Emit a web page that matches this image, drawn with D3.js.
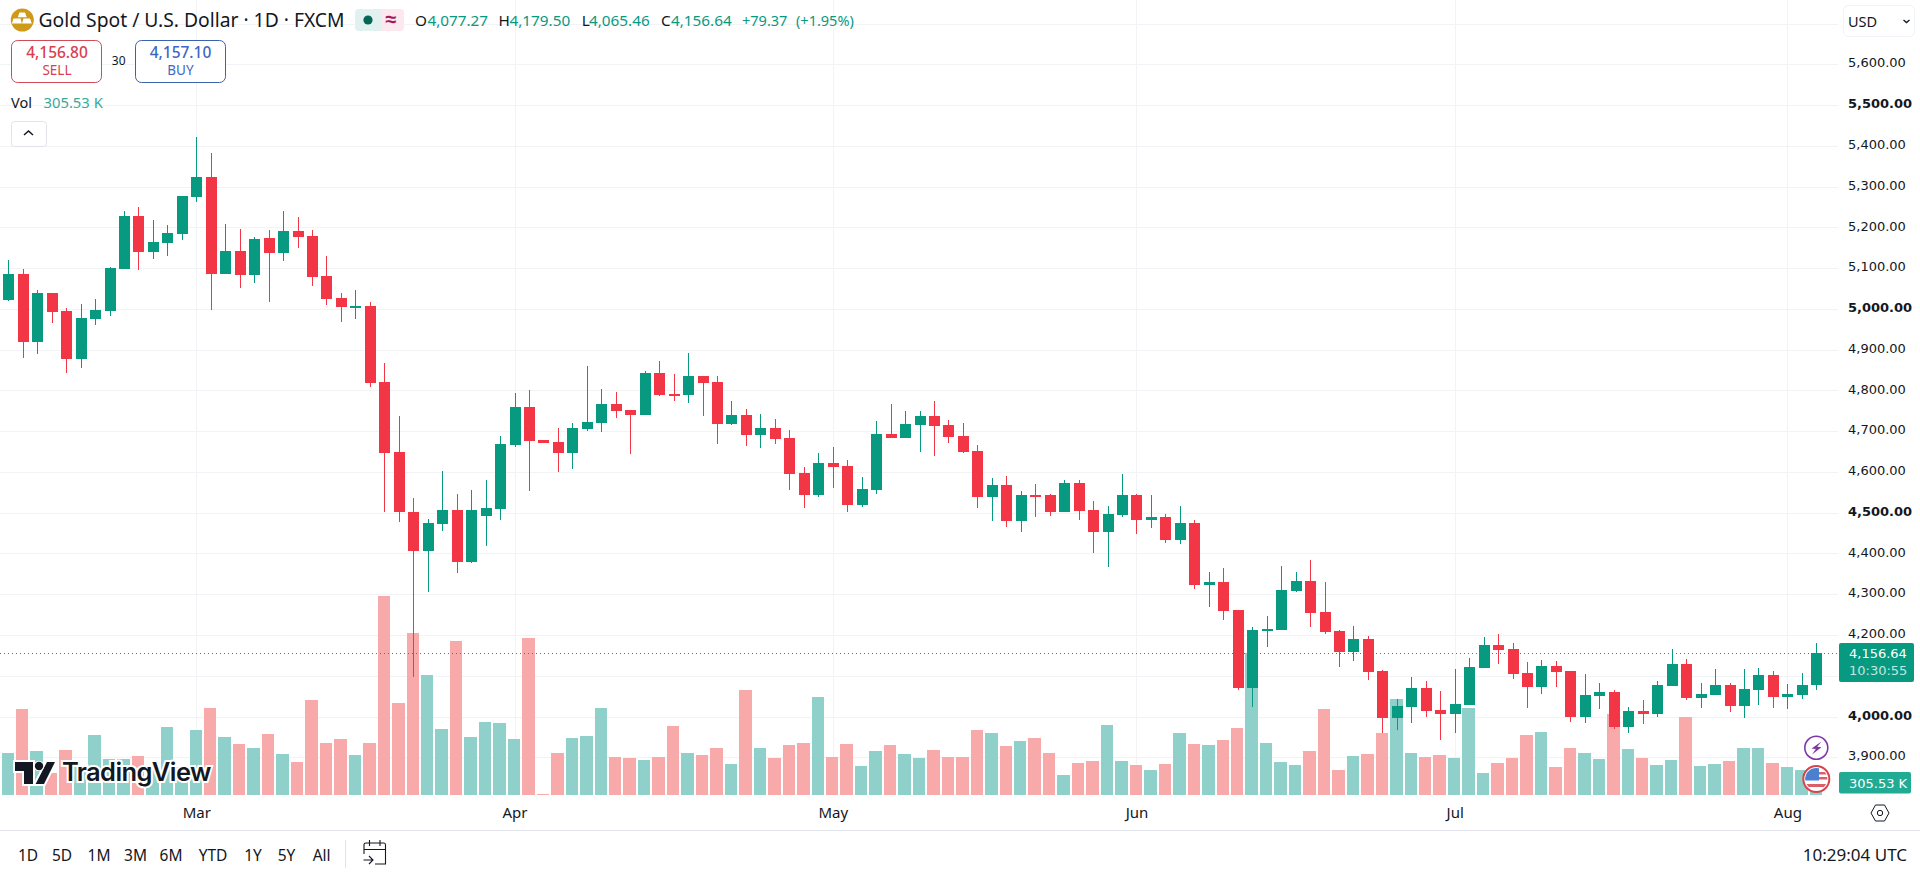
<!DOCTYPE html>
<html>
<head>
<meta charset="utf-8">
<script src="https://cdnjs.cloudflare.com/ajax/libs/d3/7.8.5/d3.min.js"></script>
<style>
html,body{margin:0;padding:0;background:#fff;overflow:hidden}
svg{display:block}
text{font-family:"Noto Sans",sans-serif;fill:#131722}
</style>
</head>
<body>
<svg id="c" width="1920" height="875"></svg>
<script>
// Bar position 0 is the first session of March; the first bar is position -14.
const firstBar = -14;
const open_ = [null,5022,5085,4920,5039,4995,4878,4975,4995,5098,5228,5139,5162,5184,5274,5323,5086,5142,5083,5174,5137,5191,5179,5081,5027,5005,5007,4821,4649,4502,4406,4472,4507,4379,4492,4509,4666,4759,4678,4673,4646,4705,4720,4767,4752,4740,4843,4791,4789,4835,4821,4718,4740,4691,4708,4683,4597,4543,4622,4614,4519,4556,4693,4683,4715,4737,4715,4688,4651,4538,4568,4480,4543,4543,4502,4573,4507,4453,4494,4543,4482,4489,4433,4475,4323,4330,4261,4070,4212,4212,4308,4332,4256,4210,4158,4190,4111,3996,4023,4070,4016,4006,4028,4119,4175,4165,4107,4072,4124,4111,3999,4050,4060,3974,4013,4006,4075,4129,4045,4053,4077,4026,4065,4102,4048,4053,4077.27];
const high_ = [null,5120,5099,5046,5040,5001,5012,5024,5103,5240,5250,5218,5206,5277,5422,5382,5208,5196,5176,5193,5240,5225,5193,5130,5039,5046,5017,4867,4737,4536,4484,4602,4546,4556,4580,4688,4794,4801,4679,4708,4720,4860,4803,4796,4752,4848,4872,4840,4892,4836,4835,4774,4754,4742,4730,4703,4612,4646,4661,4629,4587,4725,4767,4749,4749,4774,4727,4720,4666,4585,4590,4553,4570,4546,4580,4580,4529,4516,4595,4546,4543,4497,4516,4482,4354,4364,4262,4219,4246,4369,4354,4384,4330,4212,4222,4197,4114,4043,4097,4087,4062,4116,4143,4195,4202,4180,4134,4139,4136,4112,4104,4082,4065,4023,4040,4087,4165,4141,4082,4116,4082,4116,4119,4112,4080,4107,4179.50];
const low_ = [null,5019,4880,4890,4966,4843,4856,4960,4983,5097,5095,5122,5130,5170,5263,4997,5085,5051,5063,5017,5117,5149,5056,5009,4968,4975,4808,4502,4477,4097,4305,4455,4352,4376,4418,4482,4661,4553,4670,4600,4607,4700,4698,4732,4644,4739,4786,4774,4769,4737,4668,4715,4664,4659,4668,4556,4511,4538,4560,4502,4514,4546,4683,4683,4649,4639,4671,4646,4511,4480,4465,4453,4489,4492,4501,4482,4401,4367,4489,4448,4462,4426,4423,4313,4269,4237,4066,4023,4170,4212,4305,4219,4202,4121,4136,4089,3959,3967,3984,3999,3942,3959,4028,4118,4129,4092,4021,4055,4072,3986,3984,4018,3969,3959,3981,3999,4074,4040,4021,4052,4011,3996,4028,4021,4018,4043,4065.46];
const close_ = [null,5085,4920,5039,4992,4878,4977,4997,5100,5228,5139,5164,5186,5277,5323,5085,5142,5083,5171,5137,5191,5176,5078,5024,5005,5007,4818,4647,4502,4406,4475,4507,4379,4507,4511,4669,4759,4676,4671,4646,4708,4722,4767,4749,4740,4843,4789,4789,4835,4818,4718,4740,4691,4708,4681,4595,4543,4622,4612,4519,4558,4693,4683,4717,4737,4713,4686,4649,4538,4568,4480,4543,4541,4502,4573,4504,4453,4497,4543,4482,4489,4433,4475,4323,4330,4259,4070,4212,4214,4310,4332,4254,4207,4158,4190,4109,3996,4026,4070,4013,4006,4031,4121,4175,4163,4104,4072,4124,4109,3999,4053,4060,3974,4013,4006,4077,4129,4045,4055,4077,4026,4067,4102,4048,4055,4077,4156.64];
const volumeK = [1137,1061,2181,1112,552,1137,713,1519,908,908,984,628,1723,713,1646,2207,1468,1290,1188,1545,1035,832,2410,1315,1417,1010,1315,5058,2334,4116,3047,1672,3912,1468,1850,1825,1417,3989,25,1061,1443,1494,2207,959,934,883,959,1748,1061,1010,1188,781,2665,1188,934,1265,1315,2487,959,1290,730,1112,1265,1035,934,1137,959,959,1646,1570,1239,1366,1443,1061,501,806,857,1774,857,755,628,781,1570,1290,1265,1392,1697,3598,1315,832,755,1112,2181,628,984,1035,1570,2436,1061,959,1010,934,2207,552,806,934,1519,1596,704,1188,1061,908,2054,1163,934,755,883,1977,730,781,857,1188,1188,806,704,628,305.53];
const priceTicks = [5600,5500,5400,5300,5200,5100,5000,4900,4800,4700,4600,4500,4400,4300,4200,4000,3900];
const boldTicks = [5500,5000,4500,4000];
const gridPrices = [5700,4100].concat(priceTicks);
const monthLabels = ["Mar","Apr","May","Jun","Jul","Aug"];
const monthBars = [0,22,44,65,87,110];
const rangeButtons = ["1D","5D","1M","3M","6M","YTD","1Y","5Y","All"];
const lastPrice = 4156.64;

const bars = volumeK.map((v,i)=>({pos:firstBar+i,o:open_[i],h:high_[i],l:low_[i],c:close_[i],v}));
const isUp = d => d.o===null ? true : d.c>=d.o;
const UP="#089981", DOWN="#F23645", GRID="#f2f3f6";

const x = d3.scaleLinear().domain([0,112]).range([196.3,1816.3]);
const y = d3.scaleLinear().domain([3900,5600]).range([757.3,64.3]);
const vy = d3.scaleLinear().domain([0,305.53]).range([794.7,782.7]);
const px = p => Math.round(x(p));

const svg = d3.select("#c");
const PLOT_R = 1838;

// grid
const grid = svg.append("g").attr("shape-rendering","crispEdges").attr("stroke",GRID);
grid.selectAll("line.h").data(gridPrices).join("line").attr("class","h").attr("x1",0).attr("x2",PLOT_R)
  .attr("y1",d=>Math.round(y(d))+.5).attr("y2",d=>Math.round(y(d))+.5);
grid.selectAll("line.v").data(monthBars).join("line").attr("class","v").attr("y1",0).attr("y2",795)
  .attr("x1",d=>px(d)+.5).attr("x2",d=>px(d)+.5);

// volume
const plot = svg.append("g");
plot.append("g").attr("shape-rendering","crispEdges").selectAll("rect").data(bars).join("rect")
  .attr("x",d=>Math.round(x(d.pos)-6.73))
  .attr("width",d=>Math.round(x(d.pos)+6.73)-Math.round(x(d.pos)-6.73)-1)
  .attr("y",d=>vy(d.v)).attr("height",d=>vy(0)-vy(d.v))
  .attr("fill",d=>isUp(d)?"#8fd1ca":"#f8a9aa");

// last price line
svg.append("line").attr("x1",0).attr("x2",PLOT_R).attr("y1",Math.round(y(lastPrice))+.5).attr("y2",Math.round(y(lastPrice))+.5)
  .attr("stroke",UP).attr("stroke-dasharray","1 3").attr("shape-rendering","crispEdges");

// candles
const candles = svg.append("g").attr("shape-rendering","crispEdges")
  .selectAll("g").data(bars.filter(d=>d.o!==null)).join("g").attr("fill",d=>isUp(d)?UP:DOWN);
candles.append("rect").attr("x",d=>px(d.pos)).attr("width",1)
  .attr("y",d=>y(d.h)).attr("height",d=>y(d.l)-y(d.h));
candles.append("rect").attr("x",d=>px(d.pos)-5).attr("width",11)
  .attr("y",d=>y(Math.max(d.o,d.c))).attr("height",d=>Math.max(1.6,Math.abs(y(d.o)-y(d.c))));

// watermark
const wm = svg.append("g");
const wmIcon = "M15 762H33V784H24V771H15Z M47 762 L55 762 L44 784 L35.6 784 Z";
wm.append("path").attr("d",wmIcon).attr("fill","#131722").attr("stroke","#fff").attr("stroke-width",4).attr("paint-order","stroke");
wm.append("circle").attr("cx",39).attr("cy",766).attr("r",4.2).attr("fill","#131722").attr("stroke","#fff").attr("stroke-width",2).attr("paint-order","stroke");
wm.append("text").attr("x",62).attr("y",781).text("TradingView")
  .style("font-family","Inter").style("font-size","25.5px").style("font-weight",600).style("letter-spacing","-0.6px")
  .attr("stroke","#fff").attr("stroke-width",4).attr("paint-order","stroke").style("fill","#131722");

// event icons
const ev = svg.append("g");
ev.append("circle").attr("cx",1816.3).attr("cy",747.7).attr("r",11.5).attr("fill","#fff").attr("stroke","#7e37a8").attr("stroke-width",1.6);
ev.append("path").attr("d","M1821.5 741.5 L1811.5 748.5 L1815.8 749 L1812 754.5 L1821.5 747.3 L1817.2 746.8 Z").attr("fill","#7e37a8");
ev.append("clipPath").attr("id","fl").append("circle").attr("cx",1816.3).attr("cy",779).attr("r",11);
ev.append("circle").attr("cx",1816.3).attr("cy",779).attr("r",13).attr("fill","#fff").attr("stroke","#d9434e").attr("stroke-width",2);
const fl = ev.append("g").attr("clip-path","url(#fl)");
fl.append("rect").attr("x",1804).attr("y",767).attr("width",25).attr("height",24).attr("fill","#fff");
fl.append("rect").attr("x",1804).attr("y",772).attr("width",25).attr("height",2.5).attr("fill","#d9606a");
fl.append("rect").attr("x",1804).attr("y",777).attr("width",25).attr("height",2.5).attr("fill","#d9606a");
fl.append("rect").attr("x",1804).attr("y",784).attr("width",25).attr("height",3).attr("fill","#d9606a");
fl.append("rect").attr("x",1804).attr("y",767).attr("width",15).attr("height",13.5).attr("fill","#4d7fd1");

// price axis
const axisR = d3.axisRight(y).tickValues(priceTicks).tickSize(0).tickPadding(0).tickFormat(d3.format(",.2f"));
const ga = svg.append("g").attr("transform","translate(1848,-1.5)").call(axisR);
ga.select(".domain").remove();
ga.selectAll("text").style("font-family","'DejaVu Sans'").style("font-size","13px").style("fill","#131722")
  .style("font-weight",d=>boldTicks.includes(d)?700:400);

// time axis
const axisB = d3.axisBottom(x).tickValues(monthBars).tickSize(0).tickPadding(0).tickFormat((d,i)=>monthLabels[i]);
const gt = svg.append("g").attr("transform","translate(0,804)").call(axisB);
gt.select(".domain").remove();
gt.selectAll("text").style("font-family","'Noto Sans'").style("font-size","15px").style("fill","#131722").attr("dy",0).attr("y",14);

// axis labels
svg.append("rect").attr("x",1839).attr("y",643).attr("width",75).attr("height",39).attr("rx",2).attr("fill",UP);
svg.append("text").attr("x",1849).attr("y",658).text(d3.format(",.2f")(lastPrice)).style("font-family","'DejaVu Sans'").style("font-size","13px").style("fill","#fff");
svg.append("text").attr("x",1849).attr("y",675).text("10:30:55").style("font-family","'DejaVu Sans'").style("font-size","13px").style("fill","#fff").style("opacity",.75);
svg.append("rect").attr("x",1839).attr("y",772).attr("width",72).attr("height",21.5).attr("rx",2).attr("fill","#22ab94");
svg.append("text").attr("x",1849).attr("y",787.5).text("305.53 K").style("font-family","'DejaVu Sans'").style("font-size","13px").style("fill","#fff");

// USD box
svg.append("rect").attr("x",1843.5).attr("y",5.5).attr("width",71).attr("height",31).attr("rx",5).attr("fill","#fff").attr("stroke","#f0f3fa");
svg.append("text").attr("x",1848).attr("y",27).text("USD").style("font-size","14.5px");
svg.append("path").attr("d","M1903.5 20 l3 2.6 l3 -2.6").attr("fill","none").attr("stroke","#131722").attr("stroke-width",1.3);

// settings hexagon
svg.append("path").attr("d","M1871 813 l4.5 -8 h9 l4.5 8 l-4.5 8 h-9 Z").attr("fill","none").attr("stroke","#131722").attr("stroke-width",1);
svg.append("circle").attr("cx",1880).attr("cy",813).attr("r",2.7).attr("fill","none").attr("stroke","#131722");

// bottom separator + toolbar
svg.append("line").attr("x1",0).attr("x2",1920).attr("y1",830.5).attr("y2",830.5).attr("stroke","#e0e3eb");
const btnX = [28,62,99,135.5,171,213,253,286.5,321.6];
svg.selectAll("text.btn").data(rangeButtons).join("text").attr("class","btn")
  .attr("x",(d,i)=>btnX[i]).attr("y",861).attr("text-anchor","middle").text(d=>d).style("font-size","15.5px");
svg.append("line").attr("x1",345.5).attr("x2",345.5).attr("y1",840).attr("y2",868).attr("stroke","#e0e3eb");
svg.append("path").attr("d","M364 854 V844.5 Q364 843 366 843 H384 Q385.5 843 385.5 845 V864 H375 M364 849.5 H385.5 M369.5 840 V846 M380 840 V846 M363.5 860 H372.5 M369 856 L373 860 L369 864")
  .attr("fill","none").attr("stroke","#131722").attr("stroke-width",1.1);
svg.append("text").attr("x",1907).attr("y",861).attr("text-anchor","end").text("10:29:04 UTC").style("font-size","17px");

// header
svg.append("circle").attr("cx",22.3).attr("cy",20).attr("r",11.5).attr("fill","#cf9a19");
svg.append("path").attr("d","M19.5 12.5h5.5l1.8 4.8h-9z M13.5 18.5h7l1.4 5h-10z M23.5 18.5h6.5l1.8 5h-9.8z").attr("fill","#fff");
svg.append("text").attr("x",38.5).attr("y",27).text("Gold Spot / U.S. Dollar · 1D · FXCM").style("font-size","19.3px").attr("id","title");
svg.append("path").attr("d","M365 9 H359 Q355 9 355 13 V27 Q355 31 359 31 H381 V9 Z").attr("fill","#e0f1ef");
svg.append("path").attr("d","M381 9 H400 Q404 9 404 13 V27 Q404 31 400 31 H381 Z").attr("fill","#fce8ee");
svg.append("circle").attr("cx",368).attr("cy",20).attr("r",4.6).attr("fill","#056656");
svg.append("text").attr("x",391).attr("y",25.5).attr("text-anchor","middle").text("≈").style("font-size","20px").style("font-weight",700).style("fill","#a01a5a");

const hdrFs = "15.3px", TEAL="#089981";
const ohlcLetters = ["O","H","L","C"], ohlcX = [415,498.5,581.7,661], ohlcVx = [427.4,509.5,589,671];
const ohlcVals = ["4,077.27","4,179.50","4,065.46","4,156.64"];
svg.selectAll("text.l").data(ohlcLetters).join("text").attr("class","l").attr("x",(d,i)=>ohlcX[i]).attr("y",26).text(d=>d).style("font-size",hdrFs);
svg.selectAll("text.v").data(ohlcVals).join("text").attr("class","v").attr("x",(d,i)=>ohlcVx[i]).attr("y",26).text(d=>d).style("font-size",hdrFs).style("fill",TEAL);
svg.append("text").attr("x",742).attr("y",26).text("+79.37").style("font-size","14.5px").style("fill",TEAL);
svg.append("text").attr("x",796).attr("y",26).text("(+1.95%)").style("font-size","14.5px").style("fill",TEAL);

// sell / buy
svg.append("rect").attr("x",11.5).attr("y",40.5).attr("width",90).attr("height",42).attr("rx",6).attr("fill","#fff").attr("stroke","#cf4a5b");
svg.append("rect").attr("x",135.5).attr("y",40.5).attr("width",90).attr("height",42).attr("rx",6).attr("fill","#fff").attr("stroke","#3a62ad");
svg.append("text").attr("x",57).attr("y",58).attr("text-anchor","middle").text("4,156.80").style("font-size","15.5px").style("font-weight",500).style("fill","#d9404f");
svg.append("text").attr("x",57).attr("y",75).attr("text-anchor","middle").text("SELL").style("font-size","13.5px").style("fill","#d9404f");
svg.append("text").attr("x",118.7).attr("y",65).attr("text-anchor","middle").text("30").style("font-size","12px");
svg.append("text").attr("x",180.5).attr("y",58).attr("text-anchor","middle").text("4,157.10").style("font-size","15.5px").style("font-weight",500).style("fill","#3e67c6");
svg.append("text").attr("x",180.5).attr("y",75).attr("text-anchor","middle").text("BUY").style("font-size","13.5px").style("fill","#3e67c6");

// volume legend
svg.append("text").attr("x",11).attr("y",108).text("Vol").style("font-size","14.5px");
svg.append("text").attr("x",43.5).attr("y",108).text("305.53 K").style("font-size","14.8px").style("fill","#3aa89a");
svg.append("rect").attr("x",11.5).attr("y",121.5).attr("width",35).attr("height",25).attr("rx",3).attr("fill","#fff").attr("stroke","#e0e3eb");
svg.append("path").attr("d","M24 135 l4.5 -4 l4.5 4").attr("fill","none").attr("stroke","#131722").attr("stroke-width",1.5);
</script>
</body>
</html>
